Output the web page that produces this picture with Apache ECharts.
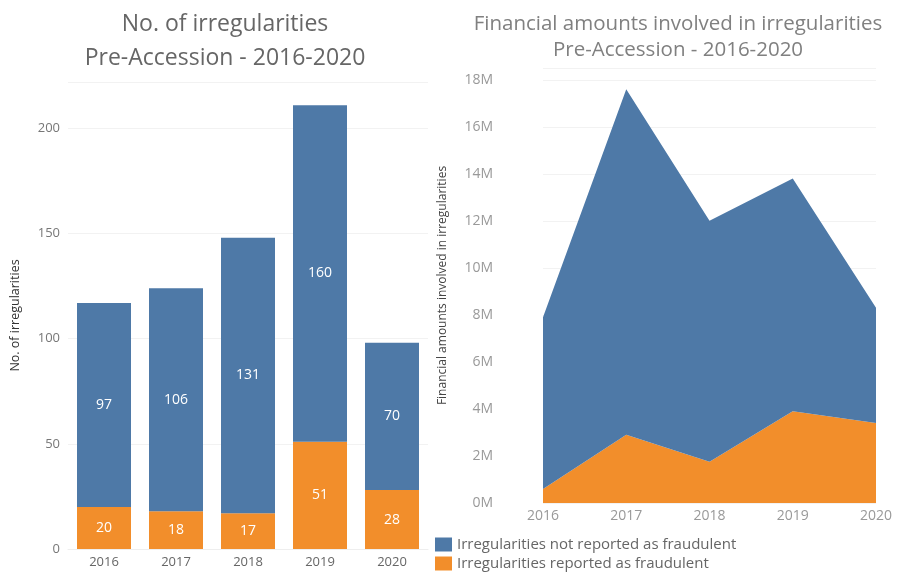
<!DOCTYPE html>
<html><head><meta charset="utf-8">
<script src="https://cdn.jsdelivr.net/npm/echarts@6/dist/echarts.min.js"></script>
<style>html,body{margin:0;padding:0;background:#fff}#c{width:906px;height:572px}</style>
</head><body><div id="c"></div>
<script>
const years = ['2016','2017','2018','2019','2020'];
const countNotFraud = [97, 106, 131, 160, 70];
const countFraud = [20, 18, 17, 51, 28];
const amountNotFraud = [7.3, 14.7, 10.25, 9.9, 4.9];
const amountFraud = [0.6, 2.9, 1.75, 3.9, 3.4];
const nameNot = 'Irregularities not reported as fraudulent';
const nameFraud = 'Irregularities reported as fraudulent';
const BLUE = '#4e79a7', ORANGE = '#f28e2b';
const FONT = '"Open Sans", "Noto Sans", sans-serif';

const legendBase = {
  orient: 'vertical', left: 435, padding: 0, itemWidth: 17, itemHeight: 14, icon: 'rect',
  textStyle: {fontSize: 15, color: '#666', fontFamily: FONT}, itemGap: 4
};

const chart = echarts.init(document.getElementById('c'), null, {renderer: 'canvas'});
chart.setOption({
  animation: false,
  textStyle: {fontFamily: FONT},
  title: [
    {text: 'No. of irregularities\nPre-Accession - 2016-2020', left: 220, top: 2, textAlign: 'center',
     textStyle: {fontSize: 23, fontWeight: 'normal', color: '#666', lineHeight: 34, fontFamily: FONT}},
    {text: 'Financial amounts involved in irregularities\nPre-Accession - 2016-2020', left: 673, top: 6, textAlign: 'center',
     textStyle: {fontSize: 20.5, fontWeight: 'normal', color: '#808080', lineHeight: 26, fontFamily: FONT}}
  ],
  legend: [
    Object.assign({}, legendBase, {data: [nameNot], top: 537}),
    Object.assign({}, legendBase, {data: [nameFraud], top: 556})
  ],
  grid: [
    {left: 68, right: 478, top: 82, bottom: 23},
    {left: 543, right: 30, top: 68, bottom: 69}
  ],
  xAxis: [
    {type: 'category', gridIndex: 0, data: years,
     axisLine: {lineStyle: {color: '#eee'}}, axisTick: {show: false},
     axisLabel: {color: '#666', fontSize: 13, margin: 7}},
    {type: 'category', gridIndex: 1, data: years, boundaryGap: false,
     axisLine: {show: false}, axisTick: {show: false},
     axisLabel: {color: '#999', fontSize: 14, margin: 6}}
  ],
  yAxis: [
    {type: 'value', gridIndex: 0, min: 0, max: 222, interval: 50,
     name: 'No. of irregularities', nameLocation: 'middle', nameGap: 46, nameRotate: 90,
     nameTextStyle: {color: '#333', fontSize: 12.5},
     axisLine: {show: false}, axisTick: {show: false},
     splitLine: {lineStyle: {color: '#f2f2f2'}},
     axisLabel: {color: '#777', fontSize: 13, margin: 8,
       formatter: v => (v % 50 === 0 ? String(v) : '')}},
    {type: 'value', gridIndex: 1, min: 0, max: 18.5, interval: 2,
     name: 'Financial amounts involved in irregularities', nameLocation: 'middle', nameGap: 94, nameRotate: 90,
     nameTextStyle: {color: '#444', fontSize: 12},
     axisLine: {show: false}, axisTick: {show: false},
     splitLine: {lineStyle: {color: '#f2f2f2'}},
     axisLabel: {color: '#999', fontSize: 14, margin: 50,
       formatter: v => (v % 2 === 0 ? v + 'M' : '')}}
  ],
  series: [
    {name: nameFraud, type: 'bar', xAxisIndex: 0, yAxisIndex: 0, stack: 'c', data: countFraud,
     barWidth: '75%', itemStyle: {color: ORANGE},
     label: {show: true, position: 'inside', color: '#fff', fontSize: 14}},
    {name: nameNot, type: 'bar', xAxisIndex: 0, yAxisIndex: 0, stack: 'c', data: countNotFraud,
     barWidth: '75%', itemStyle: {color: BLUE},
     label: {show: true, position: 'inside', color: '#fff', fontSize: 14}},
    {name: nameFraud, type: 'line', xAxisIndex: 1, yAxisIndex: 1, stack: 'a', data: amountFraud,
     symbol: 'none', lineStyle: {width: 0}, itemStyle: {color: ORANGE}, areaStyle: {color: ORANGE, opacity: 1}},
    {name: nameNot, type: 'line', xAxisIndex: 1, yAxisIndex: 1, stack: 'a', data: amountNotFraud,
     symbol: 'none', lineStyle: {width: 0}, itemStyle: {color: BLUE}, areaStyle: {color: BLUE, opacity: 1}}
  ]
});
</script></body></html>
